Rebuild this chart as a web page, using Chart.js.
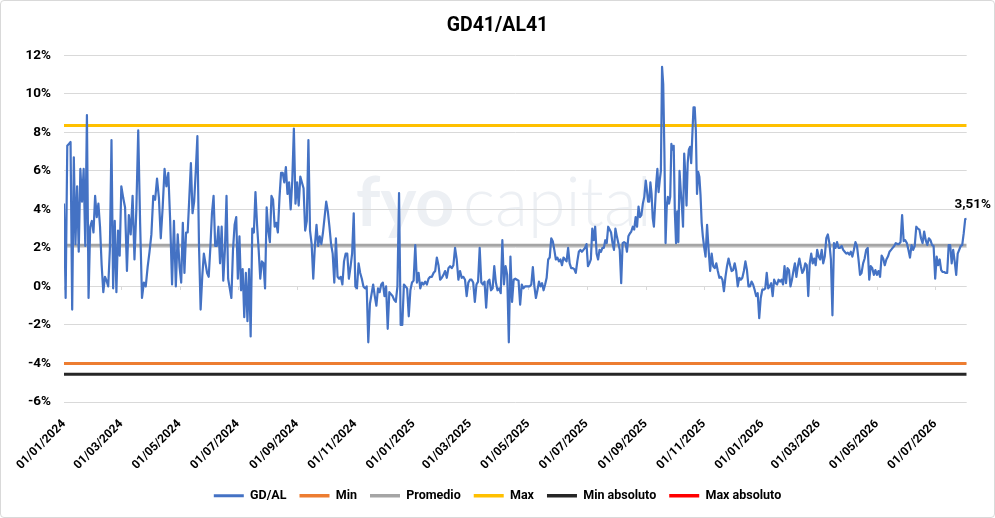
<!DOCTYPE html>
<html>
<head>
<meta charset="utf-8">
<title>GD41/AL41</title>
<script src="https://cdn.jsdelivr.net/npm/chart.js@4.4.1/dist/chart.umd.min.js"></script>
<style>
  html, body { margin: 0; padding: 0; background: #fff; }
  #wrap { width: 995px; height: 518px; box-sizing: border-box; border: 1px solid #d9d9d9; border-radius: 4px; }
  #chart { display: block; }
</style>
</head>
<body>
<div id="wrap"><canvas id="chart" width="993" height="516"></canvas></div>
<script>
// etiquetas del eje x (cada dos meses) y fecha del ultimo dato
const tickLabels = ['01/01/2024', '01/03/2024', '01/05/2024', '01/07/2024', '01/09/2024', '01/11/2024',
                    '01/01/2025', '01/03/2025', '01/05/2025', '01/07/2025', '01/09/2025', '01/11/2025',
                    '01/01/2026', '01/03/2026', '01/05/2026', '01/07/2026'];
const endDate = '03/08/2026';

// GD/AL en %, un array por bimestre
const ene_feb24 = [4.3, -0.6, 7.3, 7.4, 7.5, -1.2, 6.7, 2.2, 5.2, 1.8, 6.1, 4.4, 6.1, 2.1, 8.9, -0.6, 3.1, 3.4, 2.8, 4.7, 3.6, 4.3, 3.1, 1.1, -0.3, 0.5, 0.3, 0.0, 1.9, 7.6, -0.1, 3.4, -0.3, 2.9, 1.6];
const mar_abr24 = [5.2, 4.6, 4.1, 0.8, 3.7, 2.7, 4.7, 1.4, 4.0, 8.1, 3.3, -0.6, 0.2, 0.0, 1.0, 1.8, 2.7, 4.7, 4.5, 5.6, 4.6, 2.5, 4.1, 6.1, 5.2, 5.9, 3.4, 0.1, 3.4, 0.0, 2.7];
const may_jun24 = [1.0, 0.2, 3.3, 0.7, 2.8, 2.8, 4.6, 6.4, 3.8, 4.4, 6.0, 7.8, 2.1, -1.2, 0.5, 1.7, 1.2, 0.7, 0.5, 2.0, 3.8, 4.7, 2.1, 2.1, 3.1, 1.2, 3.1, 0.3, 1.9, 4.7, 0.4, -0.1, -0.6, 1.9, 3.2, 3.6];
const jul_ago24 = [0.4, 2.6, -0.2, 0.9, -1.6, 0.7, -1.8, 0.9, -2.6, 3.0, 2.8, 4.9, 3.2, 1.9, 0.4, 1.3, 1.2, -0.1, 4.1, 2.9, 2.3, 4.7, 4.5, 3.1, 3.3, 2.8, 4.6, 5.9, 5.9, 5.4, 6.2, 4.8, 5.4, 4.0, 5.5, 8.2, 4.3];
const sep_oct24 = [5.4, 4.2, 5.7, 5.4, 5.1, 2.9, 3.4, 7.6, 2.9, 2.2, 0.4, 2.1, 3.2, 2.1, 2.6, 2.2, 2.8, 3.6, 4.4, 3.9, 3.1, 2.2, 1.7, 0.2, 2.5, 0.5, 0.4, 0.5, 0.1, 1.3, 1.7, 1.7, 0.4, 1.0, 1.7, 3.8];
const nov_dic24 = [0.0, -0.1, 1.2, 0.7, 0.4, 0.0, -0.1, 0.0, -2.9, -0.9, -0.4, 0.1, -0.5, -1.0, -0.1, -0.3, 0.1, 0.2, -0.5, 0.0, -2.2, -0.3, -0.4, -0.5, -0.7, -0.8, 0.0, 4.85, -2.0, -2.0, 0.1, 0.0, -0.1, -1.55, -0.2, 0.2];
const ene_feb25 = [0.3, 2.15, 0.2, 0.7, -0.1, 0.2, 0.1, 0.25, 0.1, 0.4, 0.5, 0.5, 0.7, 0.8, 1.5, 1.1, 0.35, 0.45, 0.6, 0.8, 0.45, 0.95, 1.05, 0.95, 1.1, 2.0, 1.4, 0.35, 0.8, 0.45, 0.5, 0.35, -0.5, 0.2];
const mar_abr25 = [0.35, 0.35, 0.2, -0.8, 0.1, 0.25, 2.0, 0.2, 0.1, 0.25, -1.1, 0.25, 0.35, -0.2, -0.1, 1.05, 0.2, -0.2, -0.1, -0.35, 2.4, 0.1, 1.05, 0.6, -2.9, 1.55, -0.8, 0.35, 0.4, 0.35, 0.3, -0.95, 0.1, -0.1, 0.0, 0.0];
const may_jun25 = [0.0, 0.0, 0.1, 1.0, 0.0, -0.6, -0.2, 0.25, 0.0, 0.17, -0.2, 0.1, 0.45, 1.4, 1.5, 2.5, 2.35, 1.9, 1.4, 1.5, 1.3, 1.4, 1.1, 1.5, 1.4, 1.3, 2.0, 1.2, 0.95, 0.95, 0.9, 0.7, 1.3, 1.8, 1.9, 1.8, 1.9, 2.0];
const jul_ago25 = [2.2, 1.05, 1.2, 1.4, 3.0, 2.4, 3.1, 1.7, 1.4, 1.9, 1.8, 2.0, 2.0, 2.4, 2.25, 3.1, 2.95, 2.8, 2.25, 1.9, 3.0, 2.6, 2.25, 1.9, 0.17, 2.25, 2.3, 2.25, 1.8, 2.6, 2.75, 2.85, 3.1, 2.95, 3.6, 3.1, 4.15, 3.6, 3.7, 4.3, 4.65];
const sep_oct25 = [5.5, 5.0, 4.4, 4.4, 5.4, 4.8, 3.55, 3.1, 4.2, 5.35, 6.1, 4.9, 5.5, 6.0, 11.4, 10.5, 7.0, 2.25, 4.1, 4.65, 4.3, 4.65, 7.4, 7.1, 7.3, 3.8, 2.25, 3.9, 2.3, 6.0, 5.0, 4.2, 3.1, 6.9, 5.8, 4.2, 6.4, 7.1, 7.25, 6.4, 7.9, 9.3, 9.3, 8.1, 4.8, 5.95, 5.7, 4.75, 3.3, 2.6];
const nov_dic25 = [2.1, 1.55, 3.2, 1.9, 0.8, 1.7, 1.05, 0.95, 1.2, 0.8, 0.45, 0.5, 0.35, -0.25, 0.5, 1.05, 1.45, 1.1, 0.8, 0.85, 1.2, 0.8, 0.0, 0.45, 0.35, 0.45, 0.8, 1.3, 0.85, 0.0, 0.0, 0.25, 0.1, -0.17, -0.5, -0.35, -1.65, -0.6];
const ene_feb26 = [-0.17, -0.17, -0.1, 0.7, -0.1, 0.0, 0.17, -0.5, 0.35, 0.17, 0.1, 0.35, 0.25, 0.35, 0.1, 1.05, 0.17, 0.95, 0.85, 0.0, 0.35, 0.8, 1.2, 0.5, 1.05, 1.45, 1.05, 0.7, 0.85, 1.2, 1.1, -0.5, 1.2, 1.7, 1.2, 1.45, 1.1, 1.9];
const mar_abr26 = [1.55, 1.4, 1.9, 1.2, 1.55, 2.5, 2.7, 2.25, 1.4, -1.5, 2.25, 2.0, 2.3, 2.0, 2.0, 2.1, 1.9, 1.8, 1.7, 1.75, 1.65, 1.8, 1.55, 1.9, 2.3, 2.1, 1.4, 0.6, 0.7, 1.2, 1.45, 1.9, 2.0, 0.35, 1.05, 0.95, 0.6, 0.85];
const may_jun26 = [0.6, 0.8, 0.5, 1.6, 1.45, 1.1, 1.4, 1.55, 1.8, 1.9, 2.0, 2.1, 2.25, 2.2, 2.2, 2.3, 3.7, 2.35, 2.4, 2.25, 1.9, 1.5, 2.15, 1.9, 2.1, 3.1, 3.0, 2.95, 2.5, 2.25, 2.85, 2.4, 2.15, 2.5, 2.4, 2.15, 2.1];
const jul_ago26 = [0.4, 1.55, 1.1, 1.4, 0.85, 0.75, 0.75, 0.7, 0.7, 2.15, 2.15, 1.2, 1.9, 1.3, 0.6, 1.7, 1.9, 2.1, 2.15, 2.75, 3.5, 3.51];

const gdBlocks = [ene_feb24, mar_abr24, may_jun24, jul_ago24, sep_oct24, nov_dic24,
                  ene_feb25, mar_abr25, may_jun25, jul_ago25, sep_oct25, nov_dic25,
                  ene_feb26, mar_abr26, may_jun26, jul_ago26];

// lineas de referencia (%)
const minVal = -4.0;
const promedio = 2.14;
const maxVal = 8.36;
const minAbsoluto = -4.56;
const maxAbsoluto = 14.2;   // fuera de escala, no se ve

function dayOf(s) {
    const [d, m, y] = s.split('/').map(Number);
    return (Date.UTC(y, m - 1, d) - Date.UTC(2024, 0, 1)) / 86400000;
}

const tickDays = tickLabels.map(dayOf);
const bounds = tickDays.concat([dayOf(endDate)]);
const xEnd = bounds[bounds.length - 1];

// cada bimestre se reparte entre su fecha de inicio y la siguiente
const gdPoints = [];
gdBlocks.forEach((block, k) => {
    const start = bounds[k];
    const end = bounds[k + 1];
    const isLast = k === gdBlocks.length - 1;
    const step = (end - start) / (isLast ? block.length - 1 : block.length);
    block.forEach((v, i) => gdPoints.push({ x: start + i * step, y: v }));
});
const lastValue = gdPoints[gdPoints.length - 1].y;

const flat = v => [{ x: 0, y: v }, { x: xEnd, y: v }];

function lineSet(label, data, color, width) {
    return {
        label: label,
        data: data,
        borderColor: color,
        backgroundColor: color,
        borderWidth: width,
        pointRadius: 0,
        pointHoverRadius: 0,
        pointStyle: 'line',
        tension: 0,
        borderJoinStyle: 'round'
    };
}

// marca de agua
const fondo = {
    id: 'fondo',
    beforeDraw(chart) {
        const ctx = chart.ctx;
        ctx.save();
        ctx.fillStyle = '#edf0f4';
        ctx.textBaseline = 'alphabetic';
        ctx.font = '700 68px Lato';
        ctx.fillText('fyo', 355, 225);
        ctx.font = '300 68px Lato';
        ctx.fillText('capital', 462, 225);
        ctx.restore();
    }
};

// pequenas marcas del eje x sobre la linea del 0
const marcas = {
    id: 'marcas',
    beforeDatasetsDraw(chart) {
        const { ctx, scales: { x, y } } = chart;
        const y0 = Math.round(y.getPixelForValue(0));
        ctx.save();
        ctx.strokeStyle = '#d9d9d9';
        ctx.lineWidth = 1;
        ctx.beginPath();
        x.ticks.forEach(t => {
            const px = Math.round(x.getPixelForValue(t.value)) + 0.5;
            ctx.moveTo(px, y0);
            ctx.lineTo(px, y0 + 4);
        });
        ctx.stroke();
        ctx.restore();
    }
};

// etiqueta del ultimo valor
const etiqueta = {
    id: 'etiqueta',
    afterDatasetsDraw(chart) {
        const ctx = chart.ctx;
        const meta = chart.getDatasetMeta(0);
        const pt = meta.data[meta.data.length - 1];
        ctx.save();
        ctx.font = 'bold 13.5px Roboto';
        ctx.fillStyle = '#000';
        ctx.textAlign = 'center';
        ctx.textBaseline = 'middle';
        ctx.fillText(lastValue.toFixed(2).replace('.', ',') + '%', pt.x + 6, pt.y - 14);
        ctx.restore();
    }
};

const boldFont = size => ({ family: 'Roboto', size: size, weight: 'bold' });

const ctx = document.getElementById('chart').getContext('2d');
new Chart(ctx, {
    type: 'line',
    data: {
        datasets: [
            lineSet('GD/AL', gdPoints, '#4472C4', 2.2),
            lineSet('Min', flat(minVal), '#ED7D31', 3),
            lineSet('Promedio', flat(promedio), '#A5A5A5', 3),
            lineSet('Max', flat(maxVal), '#FFC000', 3),
            lineSet('Min absoluto', flat(minAbsoluto), '#262626', 3),
            lineSet('Max absoluto', flat(maxAbsoluto), '#FF0000', 3)
        ]
    },
    plugins: [fondo, marcas, etiqueta],
    options: {
        responsive: false,
        animation: false,
        layout: { padding: { left: 0, right: 0, top: 0, bottom: 5 } },
        plugins: {
            title: {
                display: true,
                text: 'GD41/AL41',
                color: '#000',
                font: boldFont(19.5),
                padding: { top: 13, bottom: 17.9 }
            },
            legend: {
                position: 'bottom',
                labels: {
                    usePointStyle: true,
                    pointStyle: 'line',
                    pointStyleWidth: 30,
                    padding: 13,
                    color: '#000',
                    font: boldFont(12.5),
                    generateLabels: chart => Chart.defaults.plugins.legend.labels.generateLabels(chart)
                        .map(l => Object.assign(l, { lineWidth: l.lineWidth + 0.6 }))
                }
            },
            tooltip: { enabled: false }
        },
        scales: {
            x: {
                type: 'linear',
                min: 0,
                max: xEnd,
                grid: { display: false },
                border: { display: false },
                afterBuildTicks: scale => { scale.ticks = tickDays.map(v => ({ value: v })); },
                afterFit: scale => { scale.height = 74.5; },
                ticks: {
                    autoSkip: false,
                    maxRotation: 45,
                    minRotation: 45,
                    padding: 7,
                    color: '#000',
                    font: boldFont(12),
                    callback: (v, i) => tickLabels[i]
                }
            },
            y: {
                min: -6,
                max: 12,
                grid: { color: '#d9d9d9', drawTicks: false },
                border: { display: false },
                afterFit: scale => { scale.width = 63; },
                ticks: {
                    stepSize: 2,
                    padding: 13,
                    color: '#000',
                    font: boldFont(13.5),
                    callback: v => v + '%'
                }
            },
            // margen derecho vacio, para que la leyenda quede centrada en toda la imagen
            derecha: {
                type: 'linear',
                position: 'right',
                min: 0,
                max: 1,
                grid: { display: false },
                border: { display: false },
                ticks: { display: false },
                afterFit: scale => { scale.width = 27.3; }
            }
        }
    }
});
</script>
</body>
</html>
